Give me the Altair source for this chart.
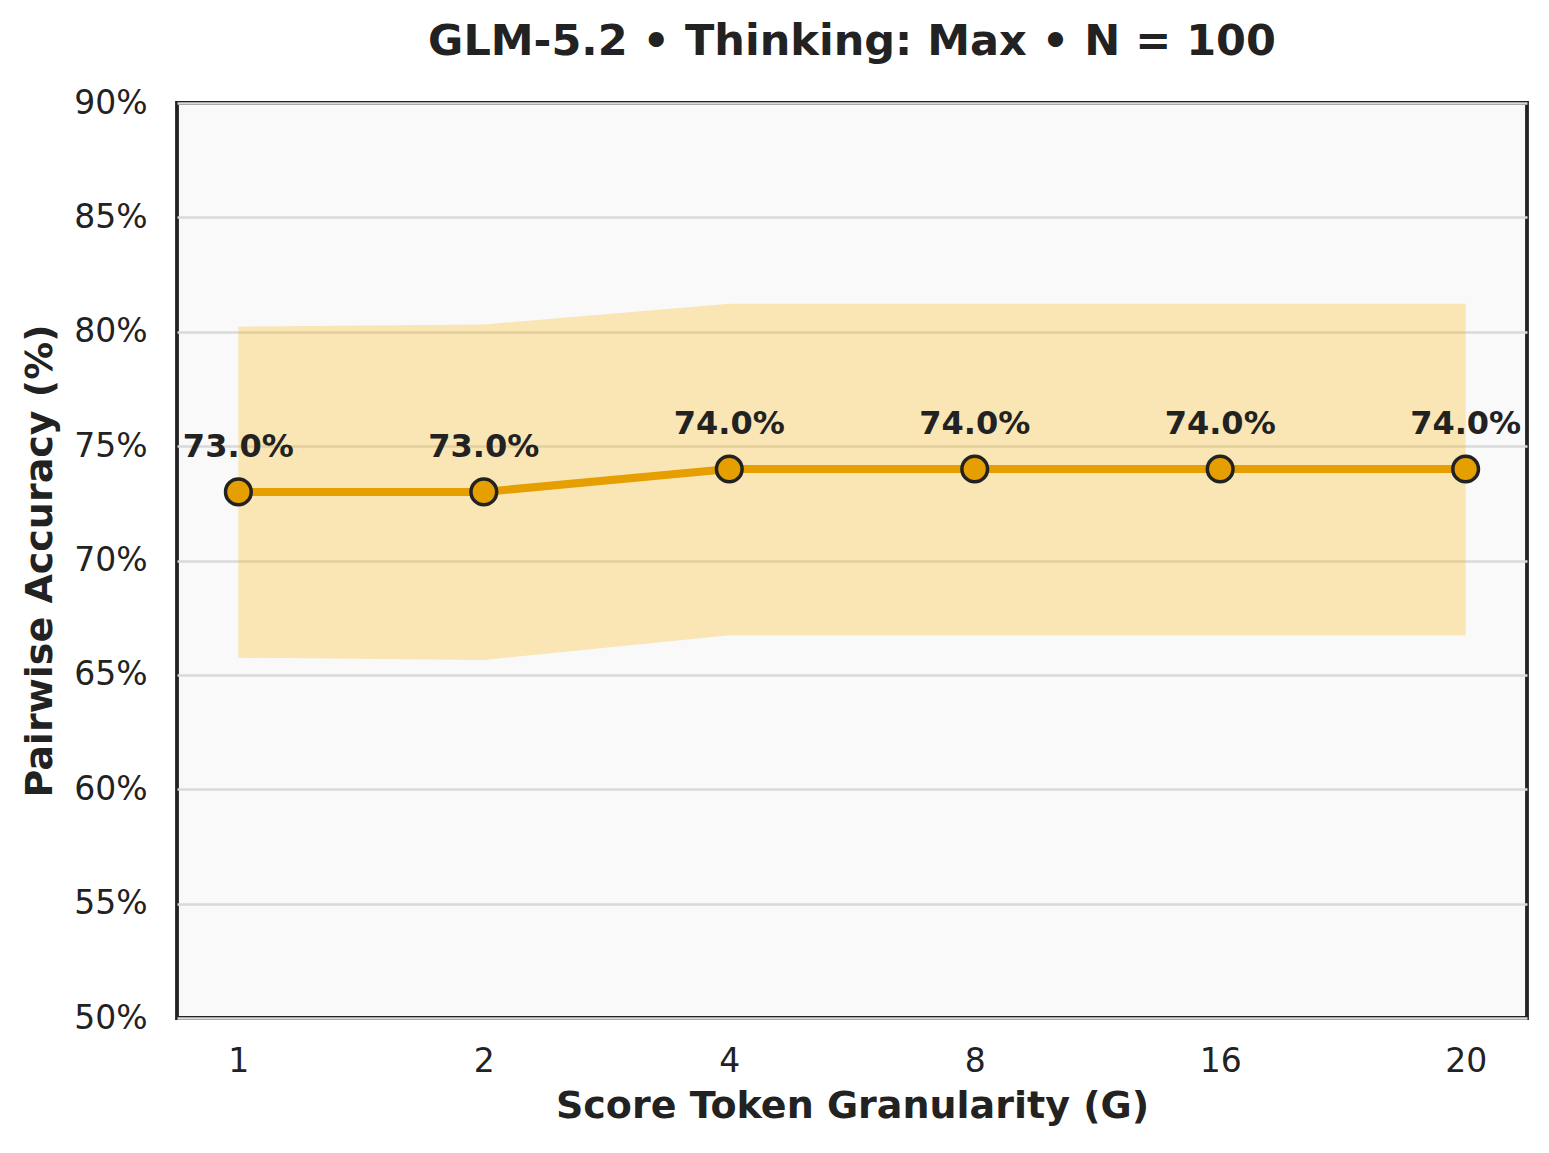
import altair as alt
import pandas as pd

granularity = ["1", "2", "4", "8", "16", "20"]
accuracy = [73.0, 73.0, 74.0, 74.0, 74.0, 74.0]
ci_low = [65.75, 65.65, 66.73, 66.73, 66.73, 66.73]
ci_high = [80.22, 80.32, 81.22, 81.22, 81.22, 81.22]
labels = ["73.0%", "73.0%", "74.0%", "74.0%", "74.0%", "74.0%"]

df = pd.DataFrame({
    "G": granularity,
    "acc": accuracy,
    "lo": ci_low,
    "hi": ci_high,
    "label": labels,
})

FONT = "DejaVu Sans"
ORANGE = "#E69F00"
BAND = "#F8BA14"
DARK = "#222222"

x_enc = alt.X(
    "G:O",
    sort=granularity,
    scale=alt.Scale(type="point", padding=0.25),
    axis=alt.Axis(
        title="Score Token Granularity (G)",
        labelAngle=0,
        ticks=False,
        tickSize=0,
        domain=False,
        grid=False,
        labelFontSize=33,
        labelPadding=27,
        titlePadding=9,
    ),
)

y_scale = alt.Scale(domain=[50, 90], nice=False, zero=False)
y_axis = alt.Axis(
    title="Pairwise Accuracy (%)",
    values=[50, 55, 60, 65, 70, 75, 80, 85, 90],
    labelExpr="datum.value + '%'",
    ticks=False,
    tickSize=0,
    domain=False,
    grid=True,
    gridColor="#d9d9d9",
    gridWidth=2.5,
    labelFontSize=33,
    labelPadding=30,
    titlePadding=14,
)

base = alt.Chart(df)

band = base.mark_area(color=BAND, opacity=0.3).encode(
    x=x_enc,
    y=alt.Y("lo:Q", scale=y_scale, axis=y_axis),
    y2="hi:Q",
)

line = base.mark_line(color=ORANGE, strokeWidth=8).encode(
    x=alt.X("G:O", sort=granularity),
    y=alt.Y("acc:Q"),
)

points = base.mark_point(
    filled=True, fill=ORANGE, stroke=DARK, strokeWidth=3.5, size=660, opacity=1, shape="circle"
).encode(
    x=alt.X("G:O", sort=granularity),
    y=alt.Y("acc:Q"),
)

text = base.mark_text(
    font=FONT, fontSize=32, fontWeight="bold", color=DARK, dy=-35, baseline="alphabetic"
).encode(
    x=alt.X("G:O", sort=granularity),
    y=alt.Y("acc:Q"),
    text="label:N",
)

chart = (
    alt.layer(band, line, points, text)
    .properties(
        width=1350,
        height=915,
        title=alt.TitleParams(
            "GLM-5.2 • Thinking: Max • N = 100",
            fontSize=43,
            fontWeight="bold",
            font=FONT,
            color=DARK,
            anchor="middle",
            offset=23,
        ),
        autosize=alt.AutoSizeParams(type="none"),
        padding={"left": 169, "top": 95, "right": 14, "bottom": 127},
        background="white",
    )
    .configure_view(fill="#f9f9f9", stroke=DARK, strokeWidth=3.8)
    .configure_axis(
        labelFont=FONT,
        titleFont=FONT,
        labelColor=DARK,
        titleColor=DARK,
        titleFontSize=38,
        titleFontWeight="bold",
    )
)

chart.save("out.html", embed_options={"renderer": "svg", "actions": False})
